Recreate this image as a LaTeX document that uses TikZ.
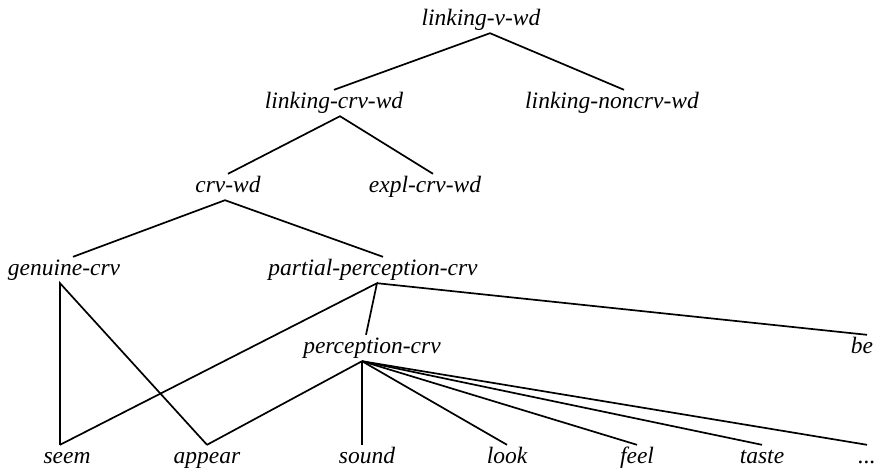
\documentclass[tikz,border=0pt]{standalone}
\usepackage{fontspec}
\setmainfont{Liberation Serif}
\begin{document}
\begin{tikzpicture}[x=1pt, y=-1pt,
  type/.style={anchor=base, inner xsep=0pt, inner ysep=4pt, text height=14pt, text depth=4pt,
    font=\fontsize{23.5}{28}\selectfont\itshape},
  link/.style={line width=1.7pt}]
\useasboundingbox (0,0) rectangle (884,467);
% upper part of the hierarchy
\node[type] (lvw) at (481,25) {linking-v-wd};
\node[type] (lcw) at (334,108) {linking-crv-wd};
\node[type] (lnw) at (612,108) {linking-noncrv-wd};
\node[type] (crv) at (228,192) {crv-wd};
\node[type] (expl) at (425,192) {expl-crv-wd};
\node[type] (gen) at (64,275) {genuine-crv};
\node[type] (ppc) at (373,275) {partial-perception-crv};
\node[type] (pc) at (372,353) {perception-crv};
\node[type] (be) at (862,353) {be};
% verbs
\node[type] (seem) at (67,463) {seem};
\node[type] (appear) at (207,463) {appear};
\node[type] (sound) at (367,463) {sound};
\node[type] (look) at (507,463) {look};
\node[type] (feel) at (637,463) {feel};
\node[type] (taste) at (762,463) {taste};
\node[type] (etc) at (867,463) {...};
% links
\draw[link] (lcw.north) -- ([xshift=9pt]lvw.south) -- ([xshift=12pt]lnw.north);
\draw[link] (crv.north) -- ([xshift=6pt]lcw.south) -- ([xshift=8pt]expl.north);
\draw[link] ([xshift=9pt]gen.north) -- ([xshift=-3pt]crv.south) -- ([xshift=10pt]ppc.north);
\draw[link] ([xshift=-7pt]seem.north) -- ([xshift=-4pt]gen.south) -- (appear.north);
\draw[link] ([xshift=-7pt]seem.north) -- ([xshift=4pt]ppc.south) -- ([xshift=-6pt]pc.north);
\draw[link] ([xshift=4pt]ppc.south) -- ([xshift=5pt]be.north);
\draw[link] ([xshift=-10pt]pc.south) -- ([xshift=-5pt]sound.north);
\foreach \v in {appear,look,feel,taste,etc}
  \draw[link] ([xshift=-10pt]pc.south) -- (\v.north);
\end{tikzpicture}
\end{document}
